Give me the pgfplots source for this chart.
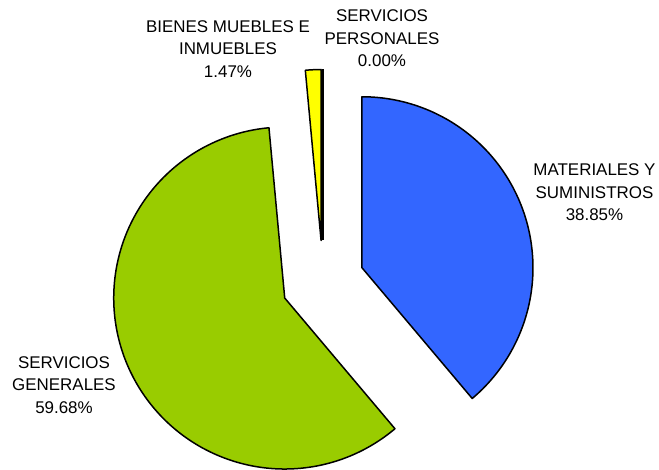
\documentclass[border=0pt]{standalone}
\usepackage{pgfplots}
\pgfplotsset{compat=1.18}
\usepackage{fontspec}
\setmainfont{Liberation Sans}
\definecolor{matblue}{RGB}{51,102,255}
\definecolor{gengreen}{RGB}{153,204,0}
\definecolor{bieyellow}{RGB}{255,255,0}
% data (percent)
\def\pMat{38.85}\def\pGen{59.68}\def\pBie{1.47}\def\pPer{0.00}
% geometry (picture units = bp)
\def\cx{323}\def\cy{186}\def\R{171}\def\dd{41.5}
\pgfmathsetmacro\aMatE{90}
\pgfmathsetmacro\aMatS{90-3.6*\pMat}
\pgfmathsetmacro\aGenS{\aMatS-3.6*\pGen}
\pgfmathsetmacro\aBieS{\aGenS-3.6*\pBie}
\pgfmathsetmacro\aPerS{\aBieS-3.6*\pPer}
\pgfmathsetmacro\xMat{\cx+\dd*cos((\aMatS+\aMatE)/2)}
\pgfmathsetmacro\yMat{\cy+\dd*sin((\aMatS+\aMatE)/2)}
\pgfmathsetmacro\xGen{\cx+\dd*cos((\aGenS+\aMatS)/2)}
\pgfmathsetmacro\yGen{\cy+\dd*sin((\aGenS+\aMatS)/2)}
\pgfmathsetmacro\xBie{\cx+\dd*cos((\aBieS+\aGenS)/2)}
\pgfmathsetmacro\yBie{\cy+\dd*sin((\aBieS+\aGenS)/2)}
\pgfmathsetmacro\xPer{\cx+\dd*cos((\aPerS+\aBieS)/2)}
\pgfmathsetmacro\yPer{\cy+\dd*sin((\aPerS+\aBieS)/2)}
\begin{document}%
\begin{tikzpicture}[every node/.style={font=\fontsize{17}{20}\selectfont, inner sep=0pt, anchor=base}]
\begin{axis}[scale only axis, width=659bp, height=468bp,
  xmin=0, xmax=659, ymin=0, ymax=468, hide axis, clip=false]
\draw[draw=none] (rel axis cs:0,0) rectangle (rel axis cs:1,1);
% Materiales y suministros
\addplot[draw=black, line width=1.5bp, line join=round, fill=matblue,
  domain=\aMatS:\aMatE, samples=150, variable=\t]
  ({\xMat+\R*cos(\t)}, {\yMat+\R*sin(\t)}) -- (axis cs:\xMat,\yMat) -- cycle;
% Servicios generales
\addplot[draw=black, line width=1.5bp, line join=round, fill=gengreen,
  domain=\aGenS:\aMatS, samples=200, variable=\t]
  ({\xGen+\R*cos(\t)}, {\yGen+\R*sin(\t)}) -- (axis cs:\xGen,\yGen) -- cycle;
% Bienes muebles e inmuebles
\addplot[draw=black, line width=1.5bp, line join=round, fill=bieyellow,
  domain=\aBieS:\aGenS, samples=20, variable=\t]
  ({\xBie+\R*cos(\t)}, {\yBie+\R*sin(\t)}) -- (axis cs:\xBie,\yBie) -- cycle;
% Servicios personales (0 %)
\addplot[draw=black, line width=1.2bp, domain=0:\R, samples=2, variable=\t]
  ({\xPer+\t*cos(\aPerS)}, {\yPer+\t*sin(\aPerS)});
% labels
\node at (axis cs:594.5,292) {MATERIALES Y};
\node at (axis cs:594.5,269.5) {SUMINISTROS};
\node at (axis cs:594.5,247) {38.85\%};
\node at (axis cs:64,99.7) {SERVICIOS};
\node at (axis cs:64,77.3) {GENERALES};
\node at (axis cs:64,55) {59.68\%};
\node at (axis cs:228,435.3) {BIENES MUEBLES E};
\node at (axis cs:228,413) {INMUEBLES};
\node at (axis cs:228,390.5) {1.47\%};
\node at (axis cs:382,446.3) {SERVICIOS};
\node at (axis cs:382,423.7) {PERSONALES};
\node at (axis cs:382,401.3) {0.00\%};
\end{axis}
\end{tikzpicture}%
\end{document}
